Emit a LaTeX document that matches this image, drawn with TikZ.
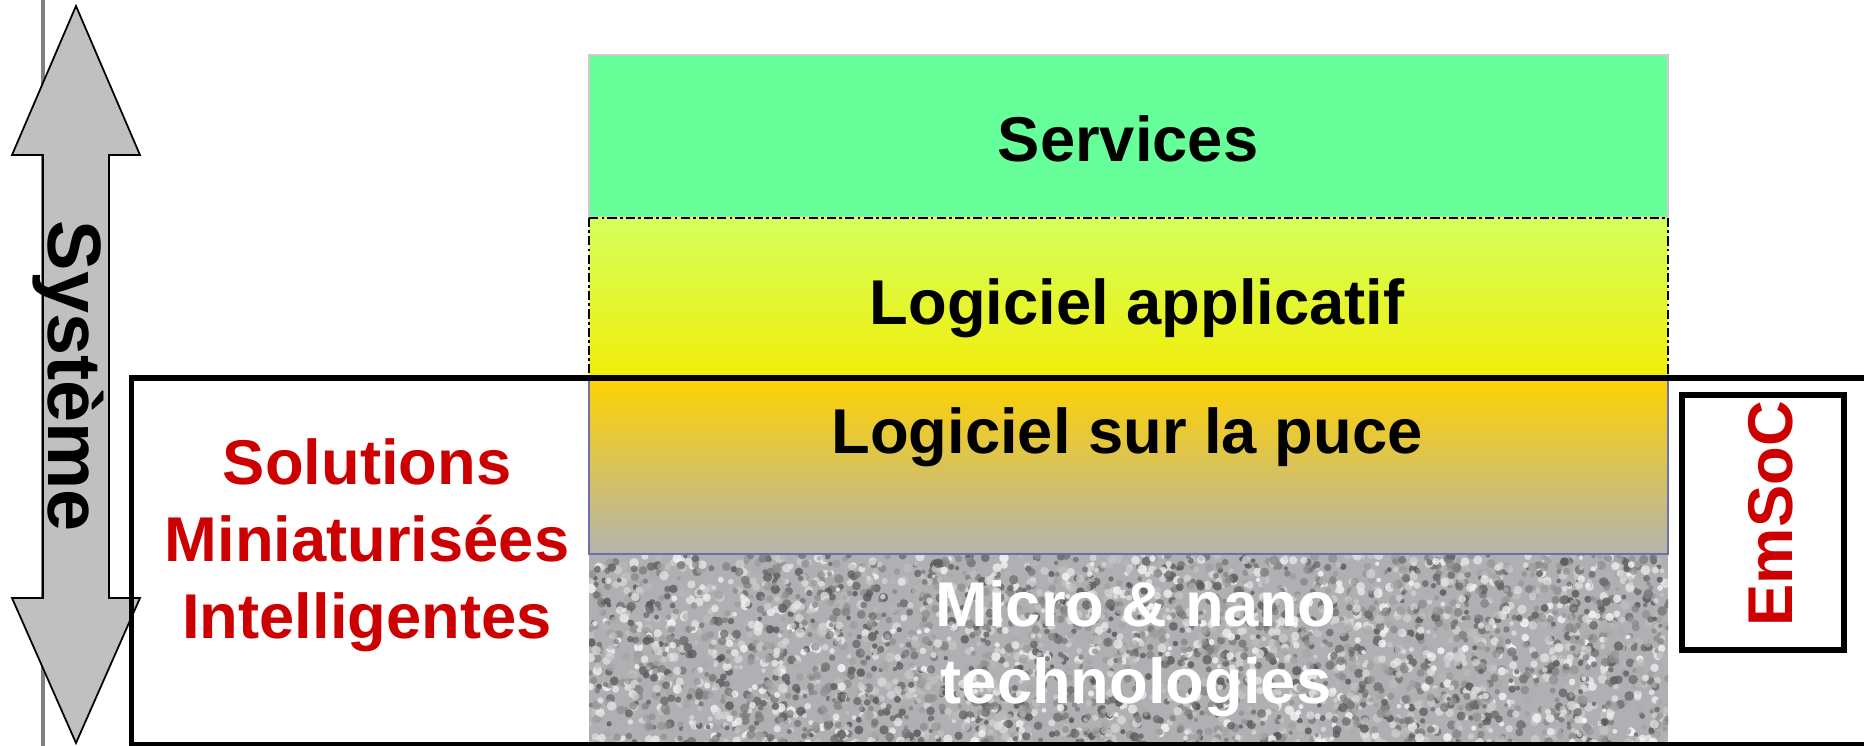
\documentclass[tikz,border=0pt]{standalone}
\usepackage{fontspec}
\setmainfont{Liberation Sans}
\usepackage{tikz}
\definecolor{servicegreen}{RGB}{102,255,153}
\definecolor{applitop}{RGB}{212,255,92}
\definecolor{applibottom}{RGB}{242,238,8}
\definecolor{pucetop}{RGB}{255,210,0}
\definecolor{pucebottom}{RGB}{180,180,174}
\definecolor{puceline}{RGB}{112,112,168}
\definecolor{emsocred}{RGB}{204,0,0}
\definecolor{arrowgrey}{RGB}{192,192,192}
\definecolor{noisegrey}{RGB}{176,176,180}

\begin{document}
\begin{tikzpicture}[x=0.01cm, y=-0.01cm]
    \tikzstyle{every node}=[inner sep=0pt, font=\bfseries\fontsize{18}{21.8}\selectfont]
    \tikzstyle{layer} = [line width=0.6pt]
    \tikzstyle{label} = [align=center, anchor=base]
    \tikzstyle{frame} = [line width=1.7pt]

    \useasboundingbox (0,0) rectangle (1864,746);

    % grey rule behind the arrow
    \draw[gray, line width=1.2pt] (43,0) -- (43,746);

    % double arrow
    \draw[fill=arrowgrey, line width=0.5pt, line join=miter]
        (76,6) -- (140,155) -- (109,155) -- (109,598) -- (140,598) -- (76,743)
        -- (12,598) -- (43,598) -- (43,155) -- (12,155) -- cycle;
    \node[anchor=base west, rotate=-90, font=\bfseries\fontsize{21.5}{26}\selectfont] (systeme) at (48,220) {Système};

    % layers
    \draw[layer, draw=gray!40, fill=servicegreen] (589,55) rectangle (1668,217);
    \draw[layer, draw=black, dash pattern=on 2.6pt off 0.9pt on 0.8pt off 0.9pt,
        top color=applitop, bottom color=applibottom] (589,218) rectangle (1668,378);
    \draw[layer, draw=puceline, top color=pucetop, bottom color=pucebottom] (589,378) rectangle (1668,554);

    % grainy bottom layer
    \fill[noisegrey] (589,555) rectangle (1668,746);
    \begin{scope}
        \clip (589,555) rectangle (1668,746);
        \pgfmathsetseed{42}
        \foreach \k in {1,...,4000}{
            \pgfmathsetmacro{\nx}{589+1079*rnd}
            \pgfmathsetmacro{\ny}{555+191*rnd}
            \pgfmathsetmacro{\nr}{0.6+0.8*rnd}
            \pgfmathtruncatemacro{\ns}{70*rnd}
            \fill[black!\ns!white, opacity=0.75] (\nx,\ny) circle[radius=\nr pt];
        }
    \end{scope}

    \node[label] (services) at (1128,162) {Services};
    \node[label] (applicatif) at (1137,325) {Logiciel applicatif};
    \node[label] (puce) at (1127,453) {Logiciel sur la puce};
    \node[label, text=white] (micro) at (1136,703) {Micro \& nano\\technologies};

    % frame
    \draw[frame] (1880,378) -- (131.5,378) -- (131.5,744.5) -- (1880,744.5);

    % EmSoC
    \draw[frame] (1682,395) rectangle (1844,650);
    \node[anchor=base west, rotate=90, text=emsocred] (emsoc) at (1792,627) {EmSoC};

    \node[label, text=emsocred] (solutions) at (367,638) {Solutions\\Miniaturisées\\Intelligentes};

\end{tikzpicture}
\end{document}
